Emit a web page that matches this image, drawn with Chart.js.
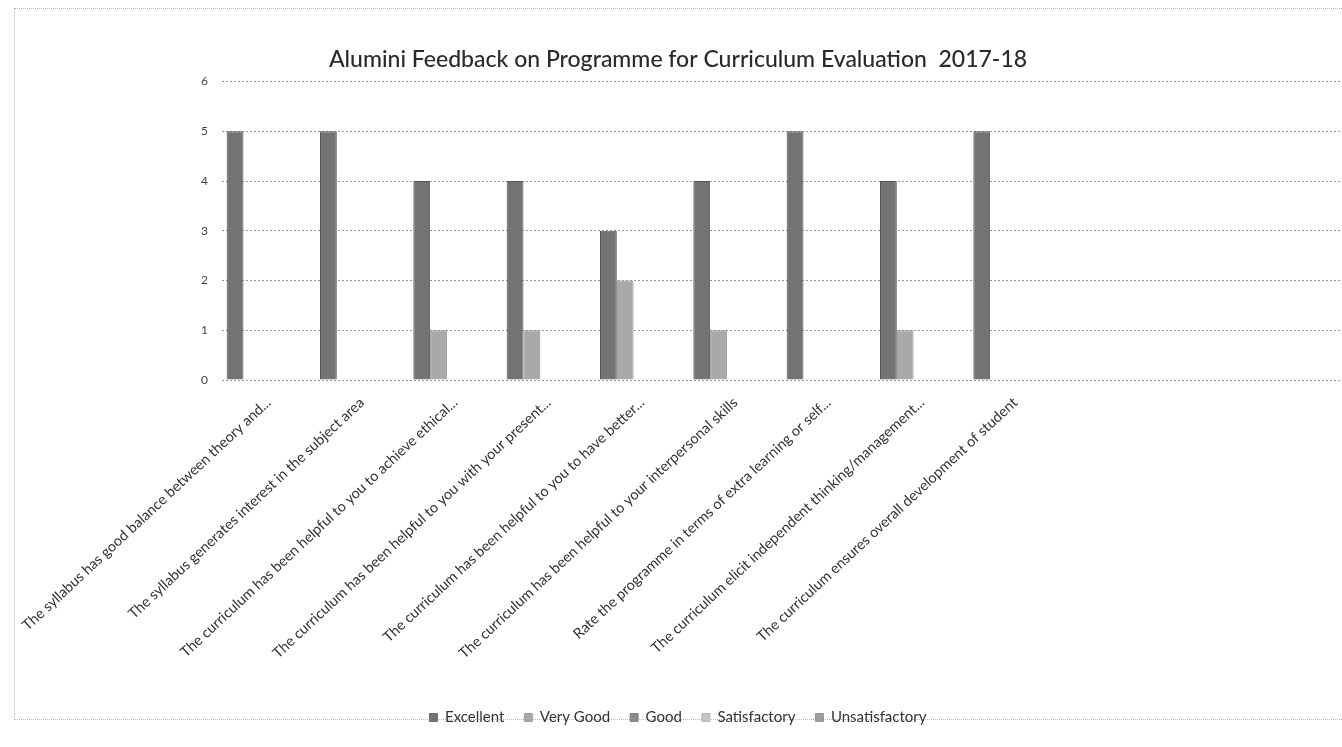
<!DOCTYPE html>
<html>
<head>
<meta charset="utf-8">
<script src="https://cdn.jsdelivr.net/npm/chart.js@4"></script>
<style>
  html,body{margin:0;padding:0;background:#fff;overflow:hidden;}
  #frame{position:absolute;left:14px;top:8px;width:1340px;height:712px;border:1px dotted #bbb;box-sizing:border-box;}
  #wrap{position:absolute;left:0;top:0;width:1342px;height:747px;}
</style>
</head>
<body>
<div id="frame"></div>
<div id="wrap"><canvas id="c" width="1342" height="747"></canvas></div>
<script>
const categories = [
  "The syllabus has good balance between theory and...",
  "The syllabus generates interest in the subject area",
  "The curriculum has been helpful to you to achieve ethical...",
  "The curriculum has been helpful to you with your present...",
  "The curriculum has been helpful to you to have better...",
  "The curriculum has been helpful to your interpersonal skills",
  "Rate the programme in terms of extra learning or self...",
  "The curriculum elicit independent thinking/management...",
  "The curriculum ensures overall development of student",
  "", "", ""
];
const seriesNames = ["Excellent", "Very Good", "Good", "Satisfactory", "Unsatisfactory"];
const excellent      = [5, 5, 4, 4, 3, 4, 5, 4, 5, null, null, null];
const veryGood       = [0, 0, 1, 1, 2, 1, 0, 1, 0, null, null, null];
const good           = [0, 0, 0, 0, 0, 0, 0, 0, 0, null, null, null];
const satisfactory   = [0, 0, 0, 0, 0, 0, 0, 0, 0, null, null, null];
const unsatisfactory = [0, 0, 0, 0, 0, 0, 0, 0, 0, null, null, null];
const yTicks = [0, 1, 2, 3, 4, 5, 6];

const fills   = ["#737373", "#a9a9a9", "#8c8c8c", "#c4c4c4", "#9e9e9e"];
const borders = ["#555555", "#8e8e8e", "#707070", "#a8a8a8", "#808080"];
const values = [excellent, veryGood, good, satisfactory, unsatisfactory];

const FONT = "Lato, 'Open Sans', sans-serif";

new Chart(document.getElementById('c'), {
  type: 'bar',
  data: {
    labels: categories,
    datasets: seriesNames.map((n, i) => ({
      label: n,
      data: values[i],
      backgroundColor: fills[i],
      borderColor: borders[i],
      borderWidth: { top: 1, left: 1, right: 1, bottom: 0 },
      barPercentage: 1.0,
      categoryPercentage: 0.9
    }))
  },
  options: {
    responsive: false,
    animation: false,
    layout: { padding: { left: 14, right: 0, top: 0, bottom: 12 } },
    plugins: {
      title: {
        display: true,
        text: "Alumini Feedback on Programme for Curriculum Evaluation  2017-18",
        color: "#2a2a2a",
        font: { family: FONT, size: 23, weight: '500' },
        padding: { top: 46, bottom: 8 }
      },
      legend: {
        position: 'bottom',
        labels: {
          color: "#333",
          font: { family: FONT, size: 15 },
          boxWidth: 8, boxHeight: 8,
          padding: 20
        }
      },
      tooltip: { enabled: false }
    },
    scales: {
      x: {
        grid: { display: false },
        border: { display: false },
        ticks: {
          color: "#333",
          font: { family: FONT, size: 14.5 },
          maxRotation: 43, minRotation: 43,
          autoSkip: false,
          padding: 6
        },
        afterFit: (s) => { s.height = 310; }
      },
      y: {
        min: 0, max: 6,
        afterBuildTicks: (s) => { s.ticks = yTicks.map(v => ({ value: v })); },
        grid: { color: "#999", drawTicks: false, lineWidth: 1 },
        border: { display: false, dash: [2, 2] },
        ticks: {
          color: "#444",
          font: { family: FONT, size: 12 },
          padding: 14
        },
        afterFit: (s) => { s.width = 208; }
      }
    }
  }
});
</script>
</body>
</html>
